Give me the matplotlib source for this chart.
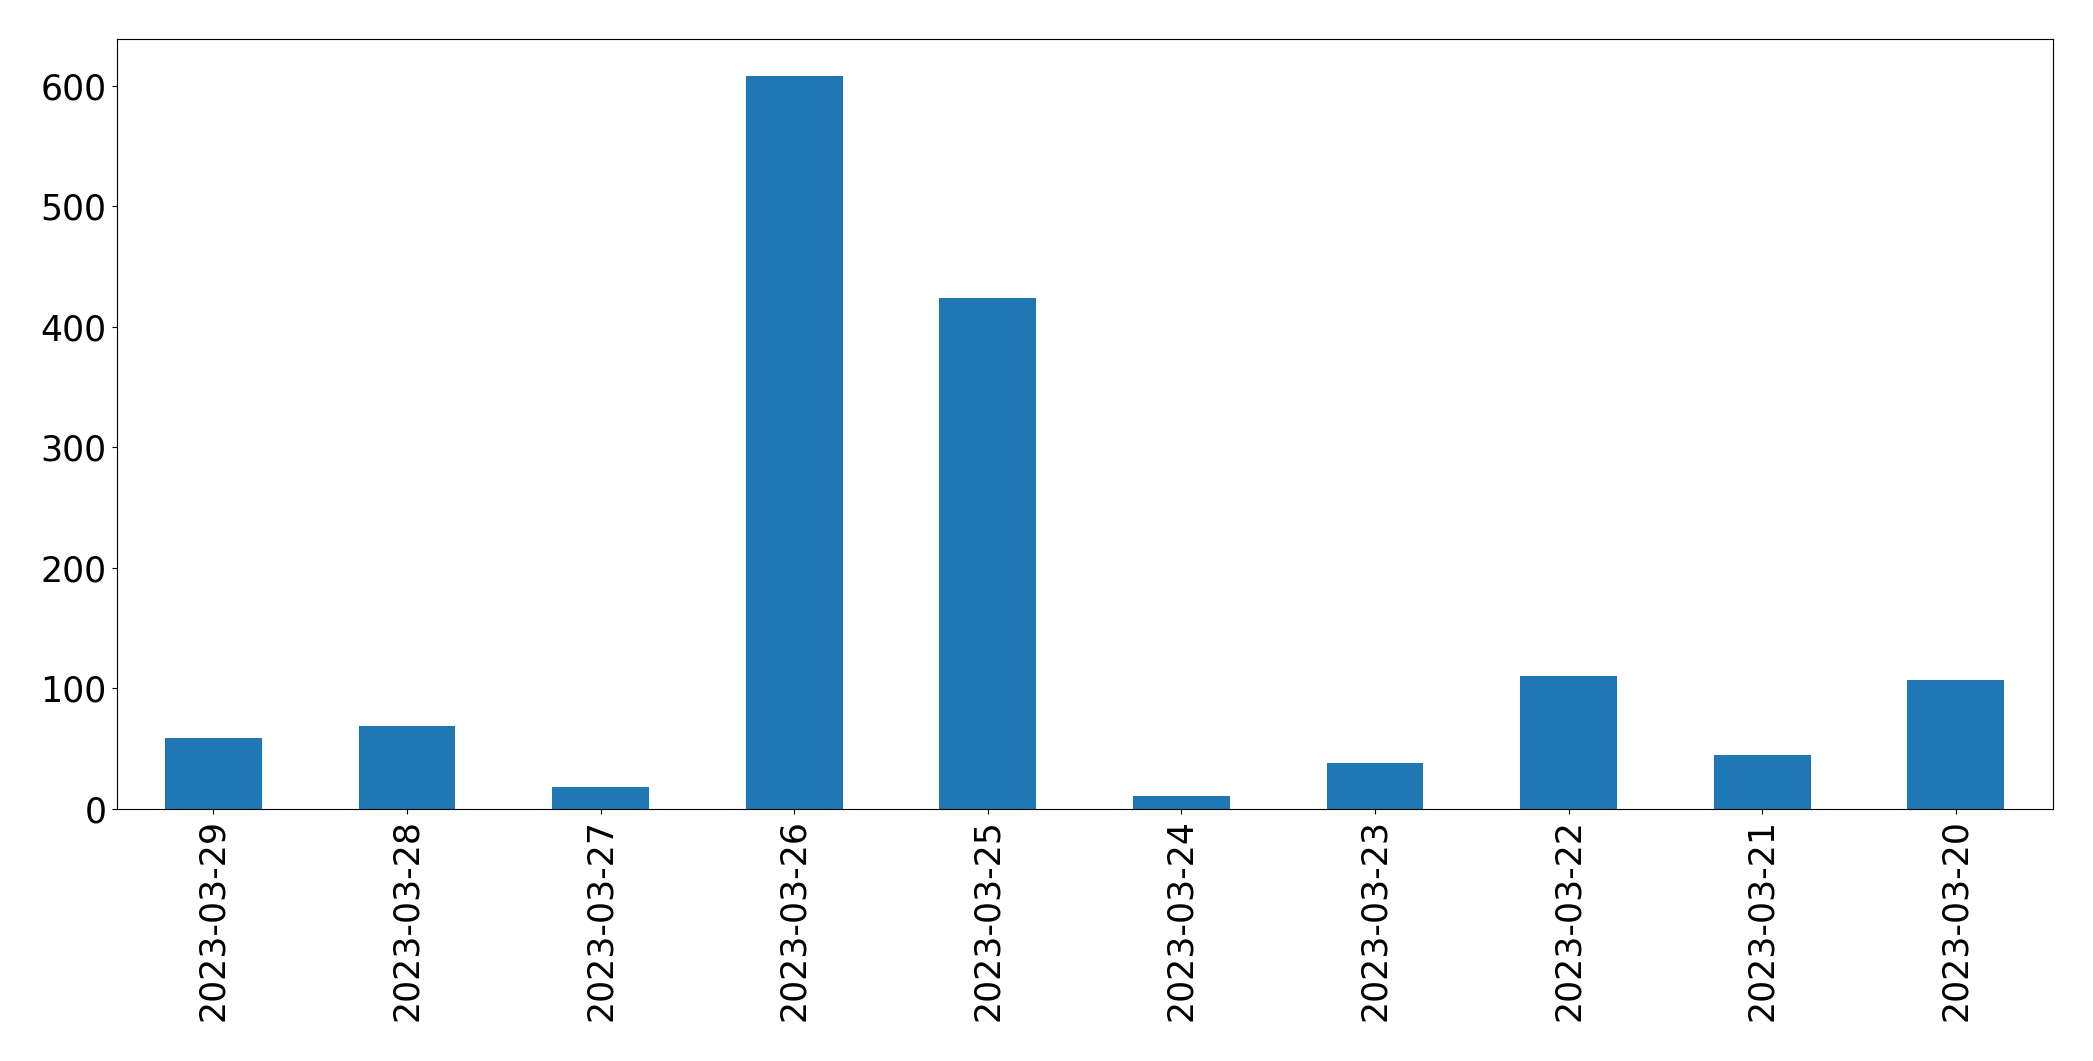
import matplotlib
matplotlib.use("Agg")
import matplotlib.pyplot as plt
import numpy as np

dates = ['2023-03-29', '2023-03-28', '2023-03-27', '2023-03-26', '2023-03-25',
         '2023-03-24', '2023-03-23', '2023-03-22', '2023-03-21', '2023-03-20']
counts = [59, 69, 18, 608, 424, 11, 38, 110, 45, 107]

fig = plt.figure(figsize=(20.93, 10.61), dpi=100)
ax = fig.add_axes([116.5 / 2093, 1 - 809 / 1061, (2052.6 - 116.5) / 2093, (809 - 39.2) / 1061])

x = np.arange(len(dates))
ax.bar(x, counts, width=0.5, color='#1f77b4')
ax.set_xlim(-0.5, len(dates) - 0.5)
ax.set_xticks(x)
ax.set_xticklabels(dates, rotation=90)
ax.tick_params(axis='both', labelsize=25)

fig.savefig('out.png', dpi=100)
